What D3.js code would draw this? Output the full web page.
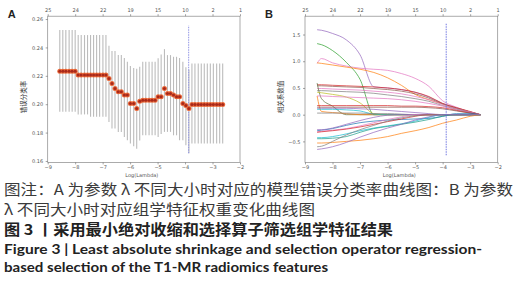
<!DOCTYPE html>
<html lang="zh">
<head>
  <meta charset="UTF-8">
  <title>LASSO</title>
  <style type="text/css">
    body { margin: 0px; background: #fff; }
    svg { display: block; }
    .domain { display: none; }
    .tick text { font-family: "DejaVu Sans", sans-serif; font-size: 5px; fill: #555; }
    .tick line { stroke: #666; stroke-width: 0.6; }
    .frame { fill: none; stroke: #888; stroke-width: 0.7; }
    .ylab { font-family: "Noto Sans CJK SC", sans-serif; font-size: 6.5px; fill: #333; }
    .xlab { font-family: "DejaVu Sans", sans-serif; font-size: 5px; fill: #555; }
    .panel { font-family: "Liberation Sans", sans-serif; font-size: 11px; font-weight: bold; fill: #222; }
    .cap { font-family: "Noto Sans CJK SC", sans-serif; font-size: 14.5px; fill: #3a3a3a; }
    .cap-b { font-family: "Noto Sans CJK SC", sans-serif; font-size: 14.5px; font-weight: bold; fill: #222; }
    .cap-en { font-family: Lato, "Open Sans", sans-serif; font-size: 13.5px; font-weight: bold; fill: #222; }
  </style>
  <script src="https://cdn.jsdelivr.net/npm/d3@7"></script>
</head>
<body>
  <svg width="531" height="300"></svg>
  <script>

  // shared x axis
  const xTicks = [-9, -8, -7, -6, -5, -4, -3, -2];
  const topTickLabels = ['25', '24', '22', '19', '15', '10', '2', '1'];
  const bestLogLambda = -3.87;

  // panel A: cross-validated misclassification error
  const logLambda = [-8.56, -8.45, -8.34, -8.22, -8.11, -8.00, -7.89, -7.78, -7.66, -7.55,
    -7.44, -7.33, -7.22, -7.11, -6.99, -6.88, -6.77, -6.66, -6.55, -6.43,
    -6.32, -6.21, -6.10, -5.99, -5.87, -5.76, -5.65, -5.54, -5.43, -5.31,
    -5.20, -5.09, -4.98, -4.87, -4.75, -4.64, -4.53, -4.42, -4.31, -4.20,
    -4.08, -3.97, -3.86, -3.75, -3.64, -3.52, -3.41, -3.30, -3.19, -3.08,
    -2.97, -2.85, -2.74, -2.63];
  const cvMean = [0.2233, 0.2233, 0.2233, 0.2233, 0.2233, 0.2233, 0.2205, 0.2205, 0.2205, 0.2205,
    0.2205, 0.2205, 0.2205, 0.2205, 0.2205, 0.2205, 0.2181, 0.2146, 0.2111, 0.2087,
    0.2087, 0.2064, 0.2064, 0.2005, 0.2005, 0.1970, 0.2020, 0.2028, 0.2028, 0.2028,
    0.2028, 0.2028, 0.2052, 0.2052, 0.2111, 0.2076, 0.2076, 0.2064, 0.2052, 0.2052,
    0.2005, 0.1990, 0.1970, 0.1998, 0.1998, 0.1998, 0.1998, 0.1998, 0.1998, 0.1998,
    0.1998, 0.1998, 0.1998, 0.1998];
  const cvUpper = [0.2522, 0.2522, 0.2522, 0.2522, 0.2522, 0.2522, 0.2487, 0.2487, 0.2487, 0.2487,
    0.2487, 0.2487, 0.2487, 0.2487, 0.2487, 0.2487, 0.2412, 0.2374, 0.2374, 0.2346,
    0.2346, 0.2325, 0.2299, 0.2270, 0.2255, 0.2250, 0.2263, 0.2299, 0.2299, 0.2299,
    0.2299, 0.2299, 0.2323, 0.2350, 0.2388, 0.2346, 0.2346, 0.2334, 0.2334, 0.2325,
    0.2299, 0.2260, 0.2245, 0.2287, 0.2287, 0.2287, 0.2287, 0.2287, 0.2287, 0.2287,
    0.2287, 0.2287, 0.2287, 0.2287];
  const cvLower = [0.1946, 0.1946, 0.1946, 0.1946, 0.1946, 0.1946, 0.1928, 0.1928, 0.1928, 0.1928,
    0.1912, 0.1912, 0.1912, 0.1912, 0.1912, 0.1912, 0.1875, 0.1829, 0.1829, 0.1805,
    0.1805, 0.1769, 0.1746, 0.1723, 0.1704, 0.1687, 0.1745, 0.1781, 0.1781, 0.1781,
    0.1781, 0.1781, 0.1769, 0.1790, 0.1805, 0.1805, 0.1805, 0.1781, 0.1781, 0.1746,
    0.1746, 0.1711, 0.1654, 0.1723, 0.1723, 0.1723, 0.1723, 0.1723, 0.1723, 0.1723,
    0.1723, 0.1723, 0.1723, 0.1723];
  const cvYTicks = [0.16, 0.18, 0.20, 0.22, 0.24, 0.26];

  // panel B: coefficient paths, read at these log(lambda) values
  const pathLogLambda = [-8.56, -8.4, -8.0, -7.5, -7.0, -6.5, -6.0, -5.5, -5.0, -4.5, -4.0, -3.5, -3.0, -2.63];
  const coefPaths = [
    [1.59, 1.58, 1.52, 1.40, 1.12, 0.52, 0.50, 0.47, 0.42, 0.33, 0.21, 0.13, 0.05, 0],
    [1.33, 1.31, 1.20, 0.98, 0.66, 0.00, 0, 0, 0, 0, 0, 0, 0, 0],
    [0.96, 1.05, 0.97, 0.91, 0.87, 0.85, 0.83, 0.77, 0.68, 0.53, 0.26, 0.14, 0.05, 0],
    [0.97, 0.96, 0.93, 0.89, 0.85, 0.79, 0.69, 0.55, 0.38, 0.28, 0.20, 0.12, 0.05, 0],
    [0.56, 0.56, 0.55, 0.54, 0.53, 0.52, 0.50, 0.47, 0.42, 0.34, 0.21, 0.13, 0.06, 0],
    [0.54, 0.54, 0.53, 0.52, 0.51, 0.49, 0.47, 0.44, 0.39, 0.31, 0.20, 0.12, 0.05, 0],
    [0.49, 0.49, 0.48, 0.47, 0.46, 0.44, 0.42, 0.39, 0.34, 0.28, 0.19, 0.11, 0.05, 0],
    [0.45, 0.45, 0.44, 0.43, 0.42, 0.40, 0.37, 0.34, 0.30, 0.25, 0.17, 0.10, 0.04, 0],
    [0.59, 0.30, 0.16, 0.00, 0, 0, 0, 0, 0, 0, 0, 0, 0, 0],
    [0.42, 0.41, 0.38, 0.33, 0.22, 0.02, 0, 0, 0, 0, 0, 0, 0, 0],
    [0.35, 0.06, 0.04, 0.02, 0, 0, 0, 0, 0, 0, 0, 0, 0, 0],
    [0.35, 0.35, 0.34, 0.33, 0.32, 0.31, 0.30, 0.28, 0.25, 0.21, 0.16, 0.09, 0.04, 0],
    [0.17, 0.17, 0.17, 0.17, 0.17, 0.17, 0.17, 0.16, 0.16, 0.15, 0.13, 0.08, 0.03, 0],
    [0.14, 0.14, 0.14, 0.14, 0.14, 0.14, 0.14, 0.14, 0.14, 0.13, 0.11, 0.07, 0.03, 0],
    [0.12, 0.12, 0.12, 0.12, 0.11, 0.10, 0.08, 0.06, 0.04, 0.02, 0, 0, 0, 0],
    [0.10, 0.10, 0.10, 0.09, 0.07, 0.01, 0, 0, 0, 0, 0, 0, 0, 0],
    [0.03, 0.03, 0.03, 0.03, 0.03, 0.02, 0.02, 0.01, 0, 0, 0, 0, 0, 0],
    [-0.30, -0.29, -0.26, -0.20, -0.15, -0.12, -0.10, -0.09, -0.08, -0.07, -0.03, 0.02, 0.02, 0],
    [-0.28, -0.28, -0.25, -0.18, -0.11, -0.05, -0.01, 0, 0, 0, 0, 0, 0, 0],
    [-0.32, -0.31, -0.29, -0.26, -0.21, -0.15, -0.09, -0.04, 0, 0, 0, 0, 0, 0],
    [-0.33, -0.32, -0.30, -0.27, -0.23, -0.18, -0.13, -0.08, -0.03, 0, 0, 0, 0, 0],
    [-0.43, -0.43, -0.41, -0.36, -0.30, -0.25, -0.21, -0.17, -0.12, -0.05, 0, 0, 0, 0],
    [-0.45, -0.45, -0.44, -0.41, -0.33, -0.26, -0.22, -0.18, -0.14, -0.09, -0.03, 0, 0, 0],
    [-0.53, -0.53, -0.52, -0.50, -0.48, -0.45, -0.41, -0.35, -0.30, -0.24, -0.16, -0.10, -0.03, 0],
    [-0.60, -0.59, -0.50, -0.38, -0.28, -0.20, -0.12, -0.06, -0.02, 0, 0, 0, 0, 0],
    [-0.65, -0.64, -0.60, -0.52, -0.42, -0.33, -0.25, -0.18, -0.10, -0.04, 0, 0, 0, 0]
  ];
  const pathColors = ['#9467bd', '#2ca02c', '#e377c2', '#ff7f0e', '#d62728', '#8c564b', '#e377c2',
    '#7f7f7f', '#5b6b3b', '#bcbd22', '#ff7f0e', '#e377c2', '#d62728', '#8c564b', '#9467bd',
    '#17becf', '#7f7f7f', '#1f77b4', '#9467bd', '#e377c2', '#d62728', '#17becf', '#1f9e89',
    '#ff7f0e', '#7f7f7f', '#9467bd'];
  const coefYTicks = [-0.5, 0, 0.5, 1.0, 1.5];

  const svg = d3.select('svg');
  const plotTop = 16.2, plotBottom = 162.4;

  const xA = d3.scaleLinear().domain([-9, -2]).range([47.7, 240]);
  const yA = d3.scaleLinear().domain([0.159, 0.262]).range([plotBottom, plotTop]);
  const xB = d3.scaleLinear().domain([-9, -2]).range([305, 497.7]);
  const yB = d3.scaleLinear().domain([-0.893, 1.843]).range([plotBottom, plotTop]);

  function drawAxes(x, y, yTicks, yFmt, letter, yLabel) {
    const g = svg.append('g');
    g.append('rect').attr('class', 'frame')
      .attr('x', x.range()[0]).attr('y', plotTop)
      .attr('width', x.range()[1] - x.range()[0]).attr('height', plotBottom - plotTop);

    g.append('g').attr('transform', `translate(0,${plotBottom})`)
      .call(d3.axisBottom(x).tickValues(xTicks).tickFormat(d3.format('d')).tickSize(2).tickPadding(1.5));
    g.append('g').attr('transform', `translate(0,${plotTop})`)
      .call(d3.axisTop(x).tickValues(xTicks).tickFormat((d, i) => topTickLabels[i]).tickSize(2).tickPadding(2.5));
    g.append('g').attr('transform', `translate(${x.range()[0]},0)`)
      .call(d3.axisLeft(y).tickValues(yTicks).tickFormat(yFmt).tickSize(2).tickPadding(2.5));

    const cx = (x.range()[0] + x.range()[1]) / 2;
    g.append('text').attr('class', 'xlab')
      .attr('x', cx - 2).attr('y', 177).attr('text-anchor', 'middle').text('Log(Lambda)');
    g.append('text').attr('class', 'panel')
      .attr('x', x.range()[0] - 40).attr('y', 18).text(letter);
    g.append('text').attr('class', 'ylab')
      .attr('transform', `translate(${x.range()[0] - 22},97) rotate(-90)`)
      .attr('text-anchor', 'middle').text(yLabel);
    return g;
  }

  // ----- panel A
  const gA = drawAxes(xA, yA, cvYTicks, d3.format('.2f'), 'A', '错误分类率');

  gA.append('g').selectAll('line').data(logLambda)
    .enter().append('line')
      .attr('x1', d => xA(d)).attr('x2', d => xA(d))
      .attr('y1', (d, i) => yA(cvLower[i]))
      .attr('y2', (d, i) => yA(cvUpper[i]))
      .attr('stroke', '#bcbcbc')
      .attr('stroke-width', 1.1);

  gA.append('line')
    .attr('x1', xA(bestLogLambda)).attr('x2', xA(bestLogLambda))
    .attr('y1', yA(0.1655)).attr('y2', yA(0.2555))
    .attr('stroke', '#8a8fe6').attr('stroke-width', 1.1)
    .attr('stroke-dasharray', '1.5,1').attr('opacity', 0.85);

  gA.append('g').selectAll('circle').data(logLambda)
    .enter().append('circle')
      .attr('cx', d => xA(d))
      .attr('cy', (d, i) => yA(cvMean[i]))
      .attr('r', 2.5)
      .attr('fill', '#ea6a3a');
  gA.append('g').selectAll('circle').data(logLambda)
    .enter().append('circle')
      .attr('cx', d => xA(d))
      .attr('cy', (d, i) => yA(cvMean[i]))
      .attr('r', 1.5)
      .attr('fill', '#a8281a');

  // ----- panel B
  const gB = drawAxes(xB, yB, coefYTicks, d3.format('.1f'), 'B', '相关系数值');

  const coefLine = d3.line()
    .x((d, i) => xB(pathLogLambda[i]))
    .y(d => yB(d))
    .curve(d3.curveMonotoneX);

  gB.append('g').selectAll('path').data(coefPaths)
    .enter().append('path')
      .attr('d', coefLine)
      .attr('fill', 'none')
      .attr('stroke', (d, i) => pathColors[i])
      .attr('stroke-width', 0.9)
      .attr('opacity', 0.8);

  gB.append('line')
    .attr('x1', xB(bestLogLambda)).attr('x2', xB(bestLogLambda))
    .attr('y1', yB(-0.76)).attr('y2', yB(1.70))
    .attr('stroke', '#6b70e0').attr('stroke-width', 1.1)
    .attr('stroke-dasharray', '1.5,1').attr('opacity', 0.85);

  // ----- caption
  const caption = [
    { text: '图注：A 为参数 λ 不同大小时对应的模型错误分类率曲线图：B 为参数', cls: 'cap', y: 195, w: 509 },
    { text: 'λ 不同大小时对应组学特征权重变化曲线图', cls: 'cap', y: 215, w: 311 },
    { text: '图 3 丨采用最小绝对收缩和选择算子筛选组学特征结果', cls: 'cap-b', y: 235, w: 389 },
    { text: 'Figure 3  |  Least absolute shrinkage and selection operator regression-', cls: 'cap-en', y: 253.5, w: 478 },
    { text: 'based selection of the T1-MR radiomics features', cls: 'cap-en', y: 271.5, w: 324 }
  ];
  svg.append('g').selectAll('text').data(caption)
    .enter().append('text')
      .attr('class', d => d.cls)
      .attr('x', 4).attr('y', d => d.y)
      .attr('textLength', d => d.w)
      .attr('lengthAdjust', 'spacingAndGlyphs')
      .text(d => d.text);

  </script>
</body>
</html>
